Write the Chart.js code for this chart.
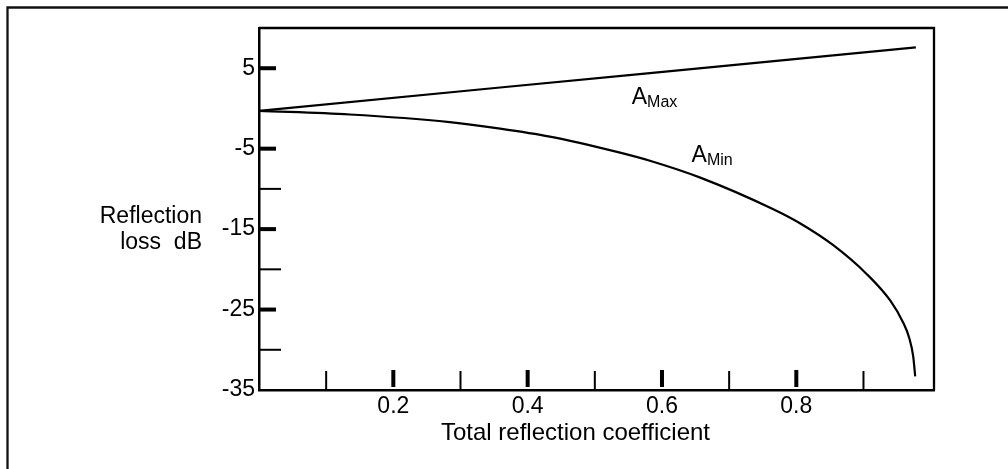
<!DOCTYPE html>
<html>
<head>
<meta charset="utf-8">
<script src="https://cdn.jsdelivr.net/npm/chart.js@4.4.1/dist/chart.umd.min.js"></script>
<style>
  html, body { margin: 0; padding: 0; background: #fff; }
</style>
</head>
<body>
<canvas id="lossChart" width="1008" height="469"></canvas>
<script>
// A_Max curve (reflection coefficient, dB)
const aMaxX = [0, 0.359, 0.582, 0.978];
const aMaxY = [-0.3, 2.6, 4.4, 7.6];

// A_Min curve
const aMinX = [0, 0.135, 0.284, 0.359, 0.433, 0.533, 0.582, 0.657, 0.765, 0.806, 0.855, 0.905, 0.940, 0.959, 0.968, 0.974, 0.977];
const aMinY = [-0.3, -0.75, -1.7, -2.5, -3.5, -5.4, -6.5, -8.6, -12.5, -14.3, -17.0, -20.6, -23.9, -26.6, -28.5, -30.8, -33.3];

// axis ticks
const xLabelTicks = [0.2, 0.4, 0.6, 0.8];
const xMinorTicks = [0.1, 0.3, 0.5, 0.7, 0.9];
const yLabelTicks = [5, -5, -15, -25, -35];
const yMajorTicks = [5, -5, -15, -25];
const yMinorTicks = [-10, -20, -30];

const FONT = "'Liberation Sans', Arial, Helvetica, sans-serif";

const ctx = document.getElementById("lossChart").getContext("2d");

function toPoints(xs, ys) {
    return xs.map((v, i) => ({ x: v, y: ys[i] }));
}

// text with a subscript, e.g. A_Max
function drawSub(c, main, sub, px, py) {
    c.font = `23px ${FONT}`;
    c.textAlign = 'left';
    c.fillText(main, px, py);
    const w = c.measureText(main).width;
    c.font = `16px ${FONT}`;
    c.fillText(sub, px + w, py + 3);
}

const framePlugin = {
    id: 'frame',
    beforeDraw(chart) {
        const c = chart.ctx;
        c.save();
        c.fillStyle = '#fff';
        c.fillRect(0, 0, chart.width, chart.height);
        // outer frame (only top and left edges are in the picture)
        c.strokeStyle = '#111';
        c.lineWidth = 2.3;
        c.beginPath();
        c.moveTo(7.5, chart.height);
        c.lineTo(7.5, 7.5);
        c.lineTo(chart.width, 7.5);
        c.stroke();
        c.restore();
    },
    afterDraw(chart) {
        const c = chart.ctx;
        const a = chart.chartArea;
        const x = chart.scales.x;
        const y = chart.scales.y;
        c.save();
        c.fillStyle = '#000';
        c.strokeStyle = '#000';

        // inside tick marks
        xLabelTicks.forEach(v => {
            const px = x.getPixelForValue(v);
            c.fillRect(px - 2, a.bottom - 20, 4, 17);
        });
        xMinorTicks.forEach(v => {
            const px = x.getPixelForValue(v);
            c.fillRect(px - 1, a.bottom - 19, 2, 19);
        });
        yMajorTicks.forEach(v => {
            const py = y.getPixelForValue(v);
            c.fillRect(a.left, py - 2, 17, 4);
        });
        yMinorTicks.forEach(v => {
            const py = y.getPixelForValue(v);
            c.fillRect(a.left, py - 1, 22, 2);
        });

        // top and right of the plot box
        c.lineWidth = 2.3;
        c.beginPath();
        c.moveTo(a.left, a.top);
        c.lineTo(a.right, a.top);
        c.lineTo(a.right, a.bottom);
        c.stroke();

        // axis titles
        c.font = `23px ${FONT}`;
        c.textBaseline = 'alphabetic';
        c.textAlign = 'right';
        c.fillText('Reflection', a.left - 57, 223);
        c.fillText('loss  dB', a.left - 57, 249);
        c.font = `24px ${FONT}`;
        c.textAlign = 'center';
        c.fillText('Total reflection coefficient', (a.left + a.right) / 2 - 21, a.bottom + 50);

        // curve labels
        drawSub(c, 'A', 'Max', x.getPixelForValue(0.555), y.getPixelForValue(0.55));
        drawSub(c, 'A', 'Min', x.getPixelForValue(0.644), y.getPixelForValue(-6.62));
        c.restore();
    }
};

const chart = new Chart(ctx, {
    type: 'line',
    data: {
        datasets: [{
            label: 'A Max',
            data: toPoints(aMaxX, aMaxY),
            borderColor: '#000',
            borderWidth: 2.2,
            pointRadius: 0,
            fill: false,
            tension: 0
        }, {
            label: 'A Min',
            data: toPoints(aMinX, aMinY),
            borderColor: '#000',
            borderWidth: 2.2,
            pointRadius: 0,
            fill: false,
            cubicInterpolationMode: 'monotone'
        }]
    },
    options: {
        responsive: false,
        animation: false,
        layout: { padding: { top: 28, right: 74, left: 0, bottom: 0 } },
        plugins: {
            legend: { display: false },
            tooltip: { enabled: false }
        },
        scales: {
            x: {
                type: 'linear',
                min: 0,
                max: 1.005,
                grid: { display: false, drawTicks: false },
                border: { display: true, color: '#000', width: 2.5 },
                ticks: {
                    color: '#000',
                    padding: 3,
                    maxRotation: 0,
                    autoSkip: false,
                    font: { family: FONT, size: 23 },
                    callback: v => v.toFixed(1)
                },
                afterBuildTicks: s => { s.ticks = xLabelTicks.map(v => ({ value: v })); },
                afterFit: s => { s.height = 79; }
            },
            y: {
                type: 'linear',
                min: -35,
                max: 10,
                grid: { display: false, drawTicks: false },
                border: { display: true, color: '#000', width: 2.5 },
                ticks: {
                    color: '#000',
                    padding: 4,
                    autoSkip: false,
                    font: { family: FONT, size: 23 },
                    callback: v => String(v)
                },
                afterBuildTicks: s => { s.ticks = yLabelTicks.map(v => ({ value: v })); },
                afterFit: s => { s.width = 259; }
            }
        }
    },
    plugins: [framePlugin]
});
</script>
</body>
</html>
